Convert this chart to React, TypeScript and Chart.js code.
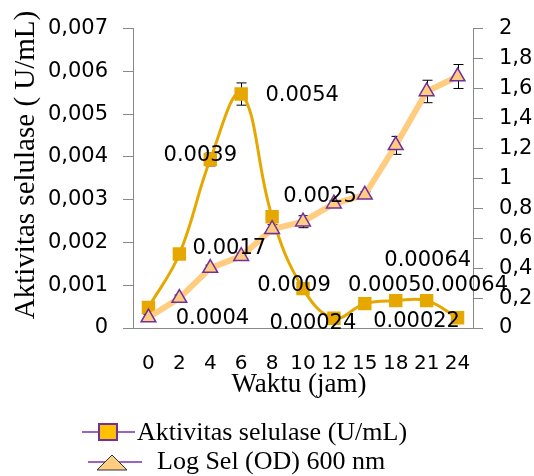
import React, { useEffect, useRef } from "react";
import { Chart, registerables } from "chart.js";

Chart.register(...registerables);

const categories = ["0", "2", "4", "6", "8", "10", "12", "15", "18", "21", "24"];
const selulase = [0.00048, 0.00173, 0.00394, 0.00547, 0.0026, 0.00092, 0.00023, 0.00057, 0.00064, 0.00064, 0.00024];
const selulaseErr = [0.00008, 0.00003, 0.00015, 0.00026, 0.00012, 0.00003, 0.00003, 0.00003, 0.00003, 0.00003, 0.00003];
const logSel = [0.07, 0.2, 0.4, 0.48, 0.66, 0.71, 0.83, 0.89, 1.22, 1.58, 1.68];
const logSelErr = [0.02, 0.02, 0.02, 0.02, 0.03, 0.04, 0.02, 0.02, 0.06, 0.075, 0.08];
const labelTexts = ["0.0004", "0.0017", "0.0039", "0.0054", "0.0025", "0.0009", "0.00024", "0.0005", "0.00064", "0.00064", "0.00022"];
const seriesNames = ["Aktivitas selulase (U/mL)", "Log Sel (OD) 600 nm"];
const xTitle = "Waktu (jam)";
const yTitle = "Aktivitas selulase ( U/mL)";

const GOLD = "#E6A800";
const PEACH = "#FFCC80";
const PURPLE = "#7030A0";
const SANS = "'DejaVu Sans', sans-serif";
const SERIF = "'Liberation Serif', 'Times New Roman', serif";

// label offsets relative to the point (dx, dy) in px
const labelOffsets = [
  [64, 11], [50, -5], [-10, -4], [61, 2], [48, -20], [-9, -3],
  [-21, 5], [20, -18], [32, -40], [38, -15], [-41, 4],
];

const extrasPlugin = {
  id: "extras",
  beforeDatasetsDraw(chart: any) {
    const ctx = chart.ctx;
    ctx.save();
    ctx.strokeStyle = "#000";
    ctx.lineWidth = 1;
    const sets = [
      { idx: 0, vals: selulase, errs: selulaseErr, axis: "y" },
      { idx: 1, vals: logSel, errs: logSelErr, axis: "y1" },
    ];
    sets.forEach((s) => {
      const meta = chart.getDatasetMeta(s.idx);
      const sc = chart.scales[s.axis];
      meta.data.forEach((pt: any, i: number) => {
        const x = Math.round(pt.x) + 0.5;
        const y1 = sc.getPixelForValue(s.vals[i] + s.errs[i]);
        const y2 = sc.getPixelForValue(s.vals[i] - s.errs[i]);
        ctx.beginPath();
        ctx.moveTo(x, y1);
        ctx.lineTo(x, y2);
        ctx.moveTo(x - 5, y1);
        ctx.lineTo(x + 5, y1);
        ctx.moveTo(x - 5, y2);
        ctx.lineTo(x + 5, y2);
        ctx.stroke();
      });
    });
    ctx.restore();
  },
  afterDraw(chart: any) {
    const ctx = chart.ctx;
    ctx.save();
    // data labels
    const meta = chart.getDatasetMeta(0);
    ctx.fillStyle = "#000";
    ctx.font = `21px ${SANS}`;
    ctx.textAlign = "center";
    ctx.textBaseline = "middle";
    meta.data.forEach((pt: any, i: number) => {
      const [dx, dy] = labelOffsets[i];
      ctx.fillText(labelTexts[i], pt.x + dx, pt.y + dy);
    });
    // axis titles
    ctx.font = `29px ${SERIF}`;
    ctx.save();
    ctx.translate(26, 165);
    ctx.rotate(-Math.PI / 2);
    ctx.fillText(yTitle, 0, 0);
    ctx.restore();
    ctx.font = `27px ${SERIF}`;
    ctx.fillText(xTitle, 299, 385);
    // legend
    ctx.textAlign = "left";
    ctx.textBaseline = "alphabetic";
    ctx.font = `26px ${SERIF}`;
    ctx.strokeStyle = "#9B63C8";
    ctx.lineWidth = 2;
    ctx.beginPath();
    ctx.moveTo(82, 432);
    ctx.lineTo(135, 432);
    ctx.moveTo(88, 462);
    ctx.lineTo(142, 462);
    ctx.stroke();
    ctx.fillStyle = "#FFC000";
    ctx.fillRect(99, 424, 18, 16);
    ctx.strokeStyle = PURPLE;
    ctx.lineWidth = 2;
    ctx.strokeRect(99, 424, 18, 16);
    ctx.beginPath();
    ctx.moveTo(112, 455);
    ctx.lineTo(127, 470);
    ctx.lineTo(97, 470);
    ctx.closePath();
    ctx.fillStyle = PEACH;
    ctx.fill();
    ctx.strokeStyle = "#333";
    ctx.lineWidth = 1;
    ctx.stroke();
    ctx.fillStyle = "#000";
    ctx.fillText(seriesNames[0], 137, 440);
    ctx.fillText(seriesNames[1], 157, 469);
    ctx.restore();
  },
};

export default function App() {
  const ref = useRef<HTMLCanvasElement | null>(null);
  useEffect(() => {
    if (!ref.current) return;
    const chart = new Chart(ref.current, {
      type: "line",
      data: {
        labels: categories,
        datasets: [
          {
            label: seriesNames[0],
            data: selulase,
            yAxisID: "y",
            borderColor: GOLD,
            backgroundColor: GOLD,
            borderWidth: 3,
            tension: 0.4,
            pointStyle: "rect",
            pointRadius: 9.5,
            pointBackgroundColor: GOLD,
            pointBorderColor: GOLD,
            pointBorderWidth: 0,
            order: 1,
          },
          {
            label: seriesNames[1],
            data: logSel,
            yAxisID: "y1",
            borderColor: PEACH,
            backgroundColor: PEACH,
            borderWidth: 6,
            tension: 0,
            pointStyle: "triangle",
            pointRadius: 8.5,
            pointBackgroundColor: PEACH,
            pointBorderColor: PURPLE,
            pointBorderWidth: 1.5,
            order: 0,
          },
        ],
      },
      options: {
        responsive: false,
        animation: false,
        events: [],
        layout: { padding: { top: 24, left: 0, right: 0, bottom: 0 } },
        plugins: { legend: { display: false }, tooltip: { enabled: false } },
        scales: {
          x: {
            offset: true,
            afterFit: (s: any) => { s.height = 148; },
            grid: { display: true, drawOnChartArea: false, drawTicks: false },
            border: { display: true, color: "#888", width: 1 },
            ticks: { color: "#000", font: { family: SANS, size: 20 }, padding: 24, maxRotation: 0 },
          },
          y: {
            position: "left",
            min: 0,
            max: 0.007,
            afterFit: (s: any) => { s.width = 133; },
            grid: { drawOnChartArea: false, drawTicks: true, tickLength: 10, color: "#888" },
            border: { display: true, color: "#888", width: 1 },
            ticks: {
              stepSize: 0.001,
              color: "#000",
              padding: 15,
              font: { family: SANS, size: 21 },
              callback: (v: any) => {
                const n = Math.round(Number(v) * 1000) / 1000;
                return n === 0 ? "0" : n.toFixed(3).replace(".", ",");
              },
            },
          },
          y1: {
            position: "right",
            min: 0,
            max: 2,
            afterFit: (s: any) => { s.width = 61; },
            grid: { drawOnChartArea: false, drawTicks: true, tickLength: 10, color: "#888" },
            border: { display: true, color: "#888", width: 1 },
            ticks: {
              stepSize: 0.2,
              color: "#000",
              padding: 16,
              font: { family: SANS, size: 21 },
              callback: (v: any) => {
                const n = Math.round(Number(v) * 10) / 10;
                return String(n).replace(".", ",");
              },
            },
          },
        },
      },
      plugins: [extrasPlugin],
    });
    return () => chart.destroy();
  }, []);
  return (
    <div style={{ position: "fixed", left: 0, top: 0, width: 534, height: 476, background: "#fff" }}>
      <canvas ref={ref} width={534} height={476} style={{ display: "block" }} />
    </div>
  );
}
